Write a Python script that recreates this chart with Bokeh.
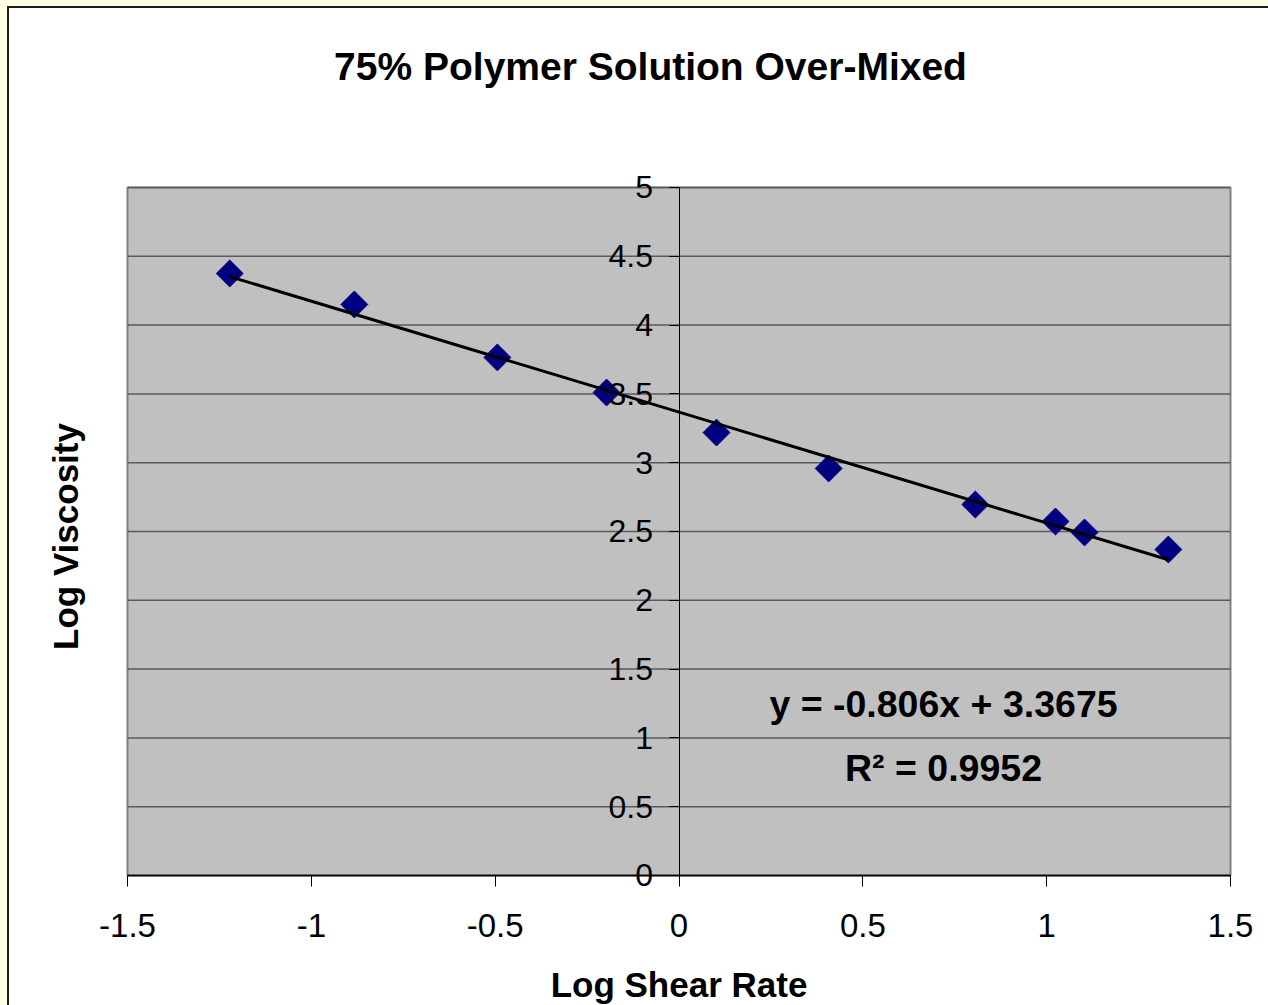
import numpy as np
from bokeh.plotting import figure
from bokeh.models import Range1d, Label, FixedTicker, LinearAxis
from bokeh.embed import file_html
from bokeh.resources import INLINE

# ---- data ----
log_shear_rate = [-1.222, -0.883, -0.494, -0.197, 0.102, 0.407, 0.806, 1.024, 1.103, 1.331]
log_viscosity = [4.375, 4.150, 3.765, 3.510, 3.219, 2.958, 2.696, 2.573, 2.493, 2.369]
fit_slope = -0.806
fit_intercept = 3.3675
fit_r2 = 0.9952

x_ticks = [-1.5, -1.0, -0.5, 0.0, 0.5, 1.0, 1.5]
x_tick_labels = ["-1.5", "-1", "-0.5", "0", "0.5", "1", "1.5"]
y_ticks = [0.0, 0.5, 1.0, 1.5, 2.0, 2.5, 3.0, 3.5, 4.0, 4.5, 5.0]
y_tick_labels = ["0", "0.5", "1", "1.5", "2", "2.5", "3", "3.5", "4", "4.5", "5"]

title_text = "75% Polymer Solution Over-Mixed"
x_title = "Log Shear Rate"
y_title = "Log Viscosity"

FONT = "Liberation Sans"

# The frame fills the whole canvas; the grey plot area is drawn at the data extent.
p = figure(width=1259, height=997,
           x_range=Range1d(-1.82094, 1.60335), y_range=Range1d(-0.94477, 6.30087),
           output_backend="svg", toolbar_location=None,
           x_axis_location=None, y_axis_location=None, min_border=0)
p.title.visible = False
p.background_fill_color = "white"
p.border_fill_color = "white"
p.outline_line_color = None
p.xgrid.visible = False
p.ygrid.visible = False

x_lo, x_hi = x_ticks[0], x_ticks[-1]
y_lo, y_hi = y_ticks[0], y_ticks[-1]

# plot area
p.quad(left=[x_lo], right=[x_hi], bottom=[y_lo], top=[y_hi],
       fill_color="#C0C0C0", line_color="#808080", line_width=2)
# horizontal gridlines
p.segment(x0=[x_lo] * len(y_ticks), x1=[x_hi] * len(y_ticks), y0=y_ticks, y1=y_ticks,
          line_color="#5a5a5a", line_width=1.5)

# x axis at y = 0
xa = LinearAxis(fixed_location=0, bounds=(x_lo, x_hi))
xa.ticker = FixedTicker(ticks=x_ticks)
xa.major_label_overrides = {t: l for t, l in zip(x_ticks, x_tick_labels)}
xa.minor_tick_line_color = None
xa.major_tick_in = 0
xa.major_tick_out = 11
xa.axis_line_color = "black"
xa.axis_line_width = 1.5
xa.major_tick_line_color = "black"
xa.major_label_text_font = FONT
xa.major_label_text_font_size = "33px"
xa.major_label_text_color = "black"
xa.major_label_standoff = 28
xa.axis_label = x_title
xa.axis_label_text_font = FONT
xa.axis_label_text_font_style = "bold"
xa.axis_label_text_font_size = "35px"
xa.axis_label_text_color = "black"
xa.axis_label_standoff = 24
p.add_layout(xa, "below")

# y axis at x = 0
ya = LinearAxis(fixed_location=0, bounds=(y_lo, y_hi))
ya.ticker = FixedTicker(ticks=y_ticks)
ya.major_label_overrides = {t: l for t, l in zip(y_ticks, y_tick_labels)}
ya.minor_tick_line_color = None
ya.major_tick_in = 0
ya.major_tick_out = 10
ya.axis_line_color = "black"
ya.major_tick_line_color = "black"
ya.major_label_text_font = FONT
ya.major_label_text_font_size = "32px"
ya.major_label_text_color = "black"
ya.major_label_standoff = 16
p.add_layout(ya, "left")

# data points
p.scatter(log_shear_rate, log_viscosity, marker="square", angle=np.pi / 4, size=19,
          fill_color="#000080", line_color="#000080")

# trend line
tx = np.array([min(log_shear_rate), max(log_shear_rate)])
ty = fit_slope * tx + fit_intercept
p.line(tx, ty, line_color="black", line_width=3)

# titles / annotations
p.add_layout(Label(x=-0.0775, y=5.878, text=title_text, text_font=FONT, text_font_style="bold",
                   text_font_size="39px", text_align="center", text_baseline="middle",
                   text_color="black"))
p.add_layout(Label(x=-1.6686, y=2.4637, text=y_title, angle=np.pi / 2, text_font=FONT,
                   text_font_style="bold", text_font_size="35px", text_align="center",
                   text_baseline="middle", text_color="black"))
p.add_layout(Label(x=0.7194, y=1.2464, text="y = %.3fx + %.4f" % (fit_slope, fit_intercept),
                   text_font=FONT, text_font_style="bold", text_font_size="37.5px",
                   text_align="center", text_baseline="middle", text_color="black"))
p.add_layout(Label(x=0.7194, y=0.7813, text="R\u00b2 = %.4f" % fit_r2,
                   text_font=FONT, text_font_style="bold", text_font_size="37.5px",
                   text_align="center", text_baseline="middle", text_color="black"))

html = file_html(p, INLINE)
style = ("<style>html{background:#FFFFE6;} body{margin:6px 0 0 7px; border-top:2px solid #1c1c1c;"
         " border-left:2px solid #1c1c1c; background:#ffffff; overflow:hidden;}</style>")
html = html.replace("</head>", style + "</head>", 1)
open("out.html", "w").write(html)
